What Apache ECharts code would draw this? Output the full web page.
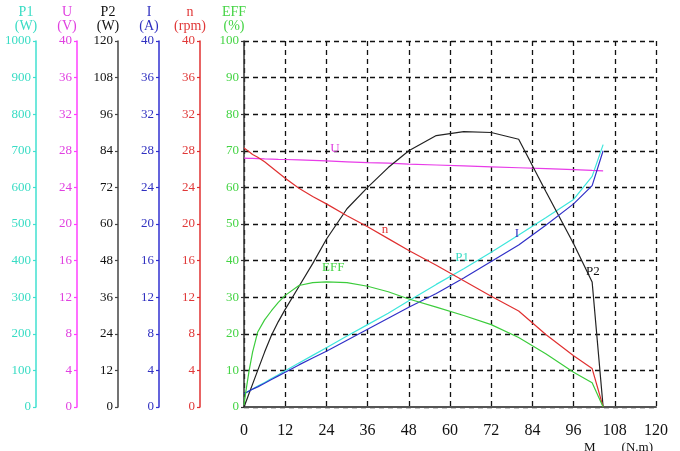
<!DOCTYPE html>
<html>
<head>
<meta charset="utf-8">
<script src="https://cdn.jsdelivr.net/npm/echarts@6/dist/echarts.min.js"></script>
<style>html,body{margin:0;padding:0;background:#fff}#c{width:680px;height:451px}</style>
</head>
<body>
<div id="c"></div>
<script>
// Torque M (N.m)
const torque = [0, 0.5, 1.5, 2.5, 4, 6, 8, 10, 12, 16, 20, 24, 30, 36, 42, 48, 56, 64, 72, 80, 88, 96, 101.4, 104.6];
// P1 (W)
const p1 = [36, 39, 44, 49, 57, 67, 78, 88, 99, 120, 141, 162, 194, 225, 256, 290, 335, 378, 423, 470, 518, 567, 630, 717];
// U (V)
const u = [27.2, 27.2, 27.18, 27.17, 27.15, 27.12, 27.1, 27.07, 27.05, 27.0, 26.95, 26.9, 26.8, 26.7, 26.65, 26.55, 26.45, 26.35, 26.25, 26.15, 26.05, 25.95, 25.85, 25.8];
// P2 (W)
const p2 = [0, 1.5, 4.5, 7.5, 12, 18, 23.5, 28, 32, 39.5, 47, 55, 65, 72, 78.5, 84, 89, 90.3, 90, 87.8, 70.5, 53.5, 41, 0];
// I (A)
const cur = [1.45, 1.55, 1.75, 1.95, 2.2, 2.6, 3.0, 3.4, 3.8, 4.6, 5.35, 6.1, 7.3, 8.5, 9.7, 10.9, 12.4, 14.1, 15.9, 17.7, 19.9, 22.2, 24.2, 28.0];
// n (rpm)
const speed = [28.3, 28.15, 27.9, 27.6, 27.3, 26.8, 26.2, 25.6, 25.0, 23.9, 23.0, 22.2, 20.9, 19.7, 18.4, 17.1, 15.5, 13.8, 12.1, 10.5, 7.9, 5.6, 4.2, 0];
// EFF (%)
const eff = [0.5, 4, 10, 15, 20.5, 23.8, 26.3, 28.6, 30.5, 33.2, 34, 34.2, 34, 33, 31.5, 29.5, 27.3, 25, 22.5, 19, 14.5, 9.5, 6.6, 0];

// axis definitions: name, max, interval
const axisNames = ['P1\n(W)', 'U\n(V)', 'P2\n(W)', 'I\n(A)', 'n\n(rpm)', 'EFF\n(%)'];
const axisMax = [1000, 40, 120, 40, 40, 100];
const axisInterval = [100, 4, 12, 4, 4, 10];
// label markers [M, value, text]
const curveLabels = [
  [63.5, 407, 'P1'],
  [26.5, 28.2, 'U'],
  [101.6, 44.5, 'P2'],
  [79.5, 18.9, 'I'],
  [41.1, 19.4, 'n'],
  [26, 38, 'EFF']
];

const serif = '"Liberation Serif", "DejaVu Serif", serif';
const textColors = ['#38dcc4', '#e040e0', '#111111', '#3030c0', '#e03838', '#44d444'];
const axisLineColors = ['#40e0d0', '#ff40ff', '#444444', '#3030d0', '#e03030', '#333333'];
const lineColors = ['#3de6dc', '#e83ce8', '#222222', '#3030c8', '#e03030', '#3ccc3c'];
const offsets = [208, 167, 126, 85, 44, 0];
const seriesData = [p1, u, p2, cur, speed, eff];
const seriesNames = ['P1', 'U', 'P2', 'I', 'n', 'EFF'];

const yAxes = axisNames.map((nm, i) => ({
  type: 'value',
  position: 'left',
  offset: offsets[i],
  min: 0,
  max: axisMax[i],
  interval: axisInterval[i],
  name: nm,
  nameLocation: 'end',
  nameGap: 8,
  nameTextStyle: {
    color: textColors[i], fontFamily: serif, fontSize: 14, lineHeight: 14,
    align: 'center', padding: [0, 20, 0, 0]
  },
  axisLine: { show: true, onZero: false, lineStyle: { color: axisLineColors[i], width: 1.5 } },
  axisTick: { show: true, length: 3, lineStyle: { color: axisLineColors[i], width: 1.2 } },
  axisLabel: { color: textColors[i], fontFamily: serif, fontSize: 13, margin: 5, formatter: v => String(v) },
  splitLine: i === 5 ? { show: true, lineStyle: { color: '#111', type: [5, 4], width: 1.3 } } : { show: false }
}));

const series = seriesData.map((arr, i) => ({
  name: seriesNames[i],
  type: 'line',
  yAxisIndex: i,
  symbol: 'none',
  smooth: false,
  lineStyle: { color: lineColors[i], width: 1.2 },
  data: torque.map((m, k) => [m, arr[k]]),
  markPoint: {
    symbol: 'circle',
    symbolSize: 0,
    data: [{
      coord: [curveLabels[i][0], curveLabels[i][1]],
      label: { show: true, formatter: curveLabels[i][2], color: textColors[i], fontFamily: serif, fontSize: 13, position: 'inside' }
    }]
  },
  z: 3
}));

const chart = echarts.init(document.getElementById('c'), null, { renderer: 'canvas' });
chart.setOption({
  backgroundColor: '#fff',
  animation: false,
  grid: { left: 244, right: 24, top: 41, bottom: 44, containLabel: false },
  xAxis: {
    type: 'value',
    min: 0, max: 120, interval: 12,
    axisLine: { show: true, onZero: false, lineStyle: { color: '#555', width: 2 } },
    axisTick: { show: false },
    axisLabel: { color: '#111', fontFamily: serif, fontSize: 16, margin: 16 },
    splitLine: { show: true, lineStyle: { color: '#111', type: [5, 4], width: 1.3 } }
  },
  yAxis: yAxes,
  series: series,
  graphic: [{
    type: 'text',
    left: 584, top: 441,
    style: { text: 'M        (N.m)', fill: '#111', font: '13px ' + serif }
  }]
});
</script>
</body>
</html>
